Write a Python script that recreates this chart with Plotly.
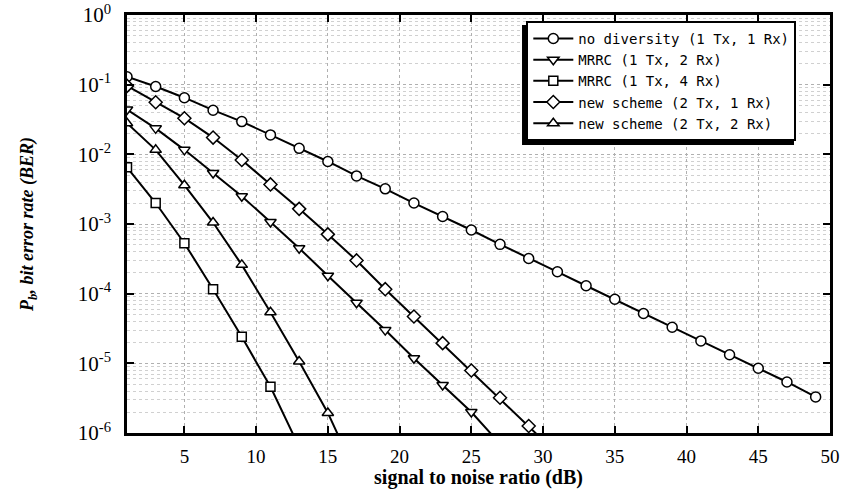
import plotly.graph_objects as go

# SNR (dB) sample points per curve
snr_nodiv = [1, 3, 5, 7, 9, 11, 13, 15, 17, 19, 21, 23, 25, 27, 29, 31, 33, 35, 37, 39, 41, 43, 45, 47, 49]
ber_nodiv = [0.130, 0.094, 0.065, 0.043, 0.0295, 0.019, 0.0122, 0.0079, 0.0049, 0.0032,
             0.0020, 0.00128, 0.00082, 0.00051, 0.00032, 0.000206, 0.000130, 8.3e-5,
             5.2e-5, 3.3e-5, 2.1e-5, 1.33e-5, 8.5e-6, 5.4e-6, 3.3e-6]

snr_mrrc2 = [1, 3, 5, 7, 9, 11, 13, 15, 17, 19, 21, 23, 25, 27]
ber_mrrc2 = [0.044, 0.0236, 0.0116, 0.0054, 0.0025, 0.00107, 0.00045, 0.000181,
             7.4e-5, 3.0e-5, 1.18e-5, 4.9e-6, 2.0e-6, 7e-7]

snr_mrrc4 = [1, 3, 5, 7, 9, 11, 13]
ber_mrrc4 = [0.0065, 0.0020, 0.00053, 0.000116, 2.4e-5, 4.6e-6, 6.3e-7]

snr_new21 = [1, 3, 5, 7, 9, 11, 13, 15, 17, 19, 21, 23, 25, 27, 29, 31]
ber_new21 = [0.096, 0.056, 0.033, 0.0174, 0.0083, 0.0037, 0.00165, 0.00071, 0.00030,
             0.000116, 4.7e-5, 1.95e-5, 7.9e-6, 3.2e-6, 1.26e-6, 5e-7]

snr_new22 = [1, 3, 5, 7, 9, 11, 13, 15, 17]
ber_new22 = [0.028, 0.0116, 0.0036, 0.00105, 0.000259, 5.4e-5, 1.06e-5, 1.94e-6, 2.5e-7]

names = ["no diversity (1 Tx, 1 Rx)", "MRRC (1 Tx, 2 Rx)", "MRRC (1 Tx, 4 Rx)",
         "new scheme (2 Tx, 1 Rx)", "new scheme (2 Tx, 2 Rx)"]
symbols = ["circle", "triangle-down", "square", "diamond", "triangle-up"]
sizes = [10, 10, 9, 10, 10]

x_ticks = [5, 10, 15, 20, 25, 30, 35, 40, 45, 50]
y_exps = [0, -1, -2, -3, -4, -5, -6]

series = [(snr_nodiv, ber_nodiv), (snr_mrrc2, ber_mrrc2), (snr_mrrc4, ber_mrrc4),
          (snr_new21, ber_new21), (snr_new22, ber_new22)]

fig = go.Figure()
for (x, y), name, sym, sz in zip(series, names, symbols, sizes):
    fig.add_trace(go.Scatter(
        x=x, y=y, name=name, mode="lines+markers",
        line=dict(color="black", width=2),
        marker=dict(symbol=sym, size=sz, color="white",
                    line=dict(color="black", width=1.5)),
    ))

serif = "Liberation Serif, Times New Roman, serif"
fig.update_layout(
    width=844, height=489,
    margin=dict(l=127, r=14, t=15, b=56, autoexpand=False),
    paper_bgcolor="white", plot_bgcolor="white",
    font=dict(family=serif, color="black"),
    legend=dict(
        x=0.568, y=0.986, xanchor="left", yanchor="top",
        bgcolor="white", bordercolor="black", borderwidth=2,
        font=dict(family="DejaVu Sans Mono, monospace", size=14, color="black"),
        tracegroupgap=0, itemwidth=40,
    ),
    # drop shadow behind the legend box (left and bottom edges)
    shapes=[dict(type="rect", xref="paper", yref="paper",
                 x0=0.5619, x1=0.9488, y0=0.689, y1=0.976,
                 fillcolor="black", line=dict(width=0), layer="above")],
    xaxis=dict(
        range=[1, 50], tickmode="array", tickvals=x_ticks,
        ticktext=[str(v) for v in x_ticks],
        ticks="inside", ticklen=7, tickwidth=2, tickcolor="black",
        showline=True, linecolor="black", linewidth=2.5, mirror="allticks",
        showgrid=True, gridcolor="#b0b0b0", griddash="dot", gridwidth=1,
        tickfont=dict(family=serif, size=19),
        ticklabelstandoff=4,
        title=dict(text="<b>signal to noise ratio (dB)</b>",
                   font=dict(family=serif, size=20), standoff=4),
        zeroline=False, automargin=False,
    ),
    yaxis=dict(
        type="log", range=[-6, 0], tickmode="array",
        tickvals=[10.0 ** e for e in y_exps],
        ticktext=["10<sup>%d</sup>" % e for e in y_exps],
        ticks="inside", ticklen=7, tickwidth=2, tickcolor="black",
        showline=True, linecolor="black", linewidth=2.5, mirror="allticks",
        showgrid=True, gridcolor="#b0b0b0", griddash="dot", gridwidth=1,
        minor=dict(dtick="D1", showgrid=True, gridcolor="#d0d0d0",
                   griddash="dot", gridwidth=1, ticks=""),
        tickfont=dict(family=serif, size=21),
        ticklabelstandoff=9,
        title=dict(text="<b><i>P<sub>b</sub>, bit error rate (BER)</i></b>",
                   font=dict(family=serif, size=18), standoff=40),
        zeroline=False, automargin=False,
    ),
)

fig.write_html("out.html", config={"displayModeBar": False},
               post_script="document.body.style.margin='0';document.body.style.padding='0';")
